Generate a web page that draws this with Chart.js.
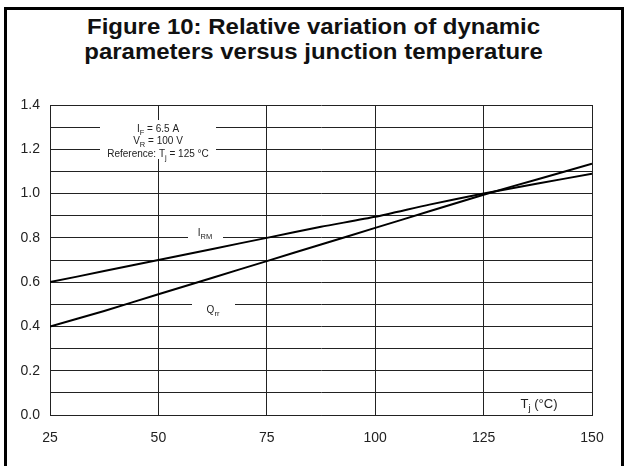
<!DOCTYPE html>
<html lang="en">
<head>
    <meta charset="UTF-8">
    <title>Figure 10</title>
    <script src="https://cdn.jsdelivr.net/npm/chart.js"></script>
    <style>
        body {
            margin: 0;
            background: #fff;
            font-family: "Liberation Sans", Arial, sans-serif;
        }
        .wrap {
            position: relative;
            width: 627px;
            height: 466px;
            overflow: hidden;
        }
        .frame {
            position: absolute;
            left: 4px;
            top: 7px;
            width: 614px;
            height: 480px;
            border: 3px solid #000;
        }
        .title {
            position: absolute;
            left: 0;
            top: 14px;
            width: 627px;
            text-align: center;
            font-weight: bold;
            font-size: 22px;
            line-height: 25px;
            color: #111;
            transform: scaleX(1.09);
            transform-origin: 313px 0;
        }
        canvas {
            position: absolute;
            left: 0;
            top: 0;
        }
    </style>
</head>
<body>
<div class="wrap">
    <div class="frame"></div>
    <div class="title">Figure 10: Relative variation of dynamic<br>parameters versus junction temperature</div>
    <canvas id="chart" width="627" height="466"></canvas>
</div>

<script>
    // temperature (°C) and relative values
    const tj = [25, 37.5, 50, 62.5, 75, 87.5, 100, 112.5, 125, 137.5, 150];
    const irm = [0.60, 0.65, 0.70, 0.75, 0.80, 0.85, 0.895, 0.95, 1.00, 1.045, 1.09];
    const qrr = [0.40, 0.47, 0.545, 0.62, 0.695, 0.77, 0.845, 0.92, 0.995, 1.065, 1.135];
    const xTicks = [25, 50, 75, 100, 125, 150];

    const FONT = '"Liberation Sans", Arial, sans-serif';

    // white boxes behind labels, then the labels
    const labels = {
        id: 'labels',
        beforeDatasetsDraw(chart) {
            const { ctx } = chart;
            ctx.save();
            ctx.fillStyle = '#fff';
            ctx.fillRect(100, 120, 116, 39);
            ctx.fillRect(188, 229, 35, 16);
            ctx.fillRect(192, 296, 43, 16);
            ctx.restore();
        },
        afterDraw(chart) {
            const { ctx } = chart;
            ctx.save();
            ctx.fillStyle = '#222';
            ctx.textBaseline = 'alphabetic';

            function sub(x, y, main, s, after, size) {
                ctx.font = size + 'px ' + FONT;
                const w1 = ctx.measureText(main).width;
                ctx.font = (size * 0.75) + 'px ' + FONT;
                const w2 = ctx.measureText(s).width;
                ctx.font = size + 'px ' + FONT;
                const w3 = ctx.measureText(after).width;
                let sx = x - (w1 + w2 + w3) / 2;
                ctx.textAlign = 'left';
                ctx.fillText(main, sx, y);
                ctx.font = (size * 0.75) + 'px ' + FONT;
                ctx.fillText(s, sx + w1, y + 3);
                ctx.font = size + 'px ' + FONT;
                ctx.fillText(after, sx + w1 + w2, y);
            }

            sub(158, 132, 'I', 'F', ' = 6.5 A', 10);
            sub(158, 144, 'V', 'R', ' = 100 V', 10);
            sub(158, 157, 'Reference: T', 'j', ' = 125 °C', 10);
            sub(205, 236, 'I', 'RM', '', 10);
            sub(213, 313, 'Q', 'rr', '', 10);
            sub(539, 408, 'T', 'j', ' (°C)', 13);
            ctx.restore();
        }
    };

    new Chart(document.getElementById('chart'), {
        type: 'line',
        data: {
            datasets: [
                {
                    label: 'IRM',
                    data: tj.map((t, i) => ({ x: t, y: irm[i] })),
                    borderColor: '#000',
                    borderWidth: 2,
                    pointRadius: 0,
                    tension: 0.2
                },
                {
                    label: 'Qrr',
                    data: tj.map((t, i) => ({ x: t, y: qrr[i] })),
                    borderColor: '#000',
                    borderWidth: 2,
                    pointRadius: 0,
                    tension: 0.2
                }
            ]
        },
        options: {
            responsive: false,
            animation: false,
            layout: {
                padding: { top: 105, right: 35, left: 0, bottom: 0 }
            },
            plugins: {
                legend: { display: false },
                tooltip: { enabled: false }
            },
            scales: {
                x: {
                    type: 'linear',
                    min: 25,
                    max: 150,
                    afterBuildTicks(scale) {
                        scale.ticks = xTicks.map(v => ({ value: v }));
                    },
                    afterFit(scale) {
                        scale.height = 51;
                    },
                    grid: { color: '#222', lineWidth: 1, drawTicks: false },
                    border: { color: '#222', width: 1 },
                    ticks: {
                        padding: 15,
                        color: '#222',
                        font: { family: FONT, size: 14 }
                    }
                },
                y: {
                    min: 0,
                    max: 1.4,
                    afterFit(scale) {
                        scale.width = 50;
                    },
                    grid: { color: '#222', lineWidth: 1, drawTicks: false },
                    border: { color: '#222', width: 1 },
                    ticks: {
                        stepSize: 0.1,
                        padding: 10,
                        color: '#222',
                        font: { family: FONT, size: 14 },
                        callback(v) {
                            const k = Math.round(v * 10);
                            return k % 2 === 0 ? (k / 10).toFixed(1) : '';
                        }
                    }
                }
            }
        },
        plugins: [labels]
    });
</script>
</body>
</html>
